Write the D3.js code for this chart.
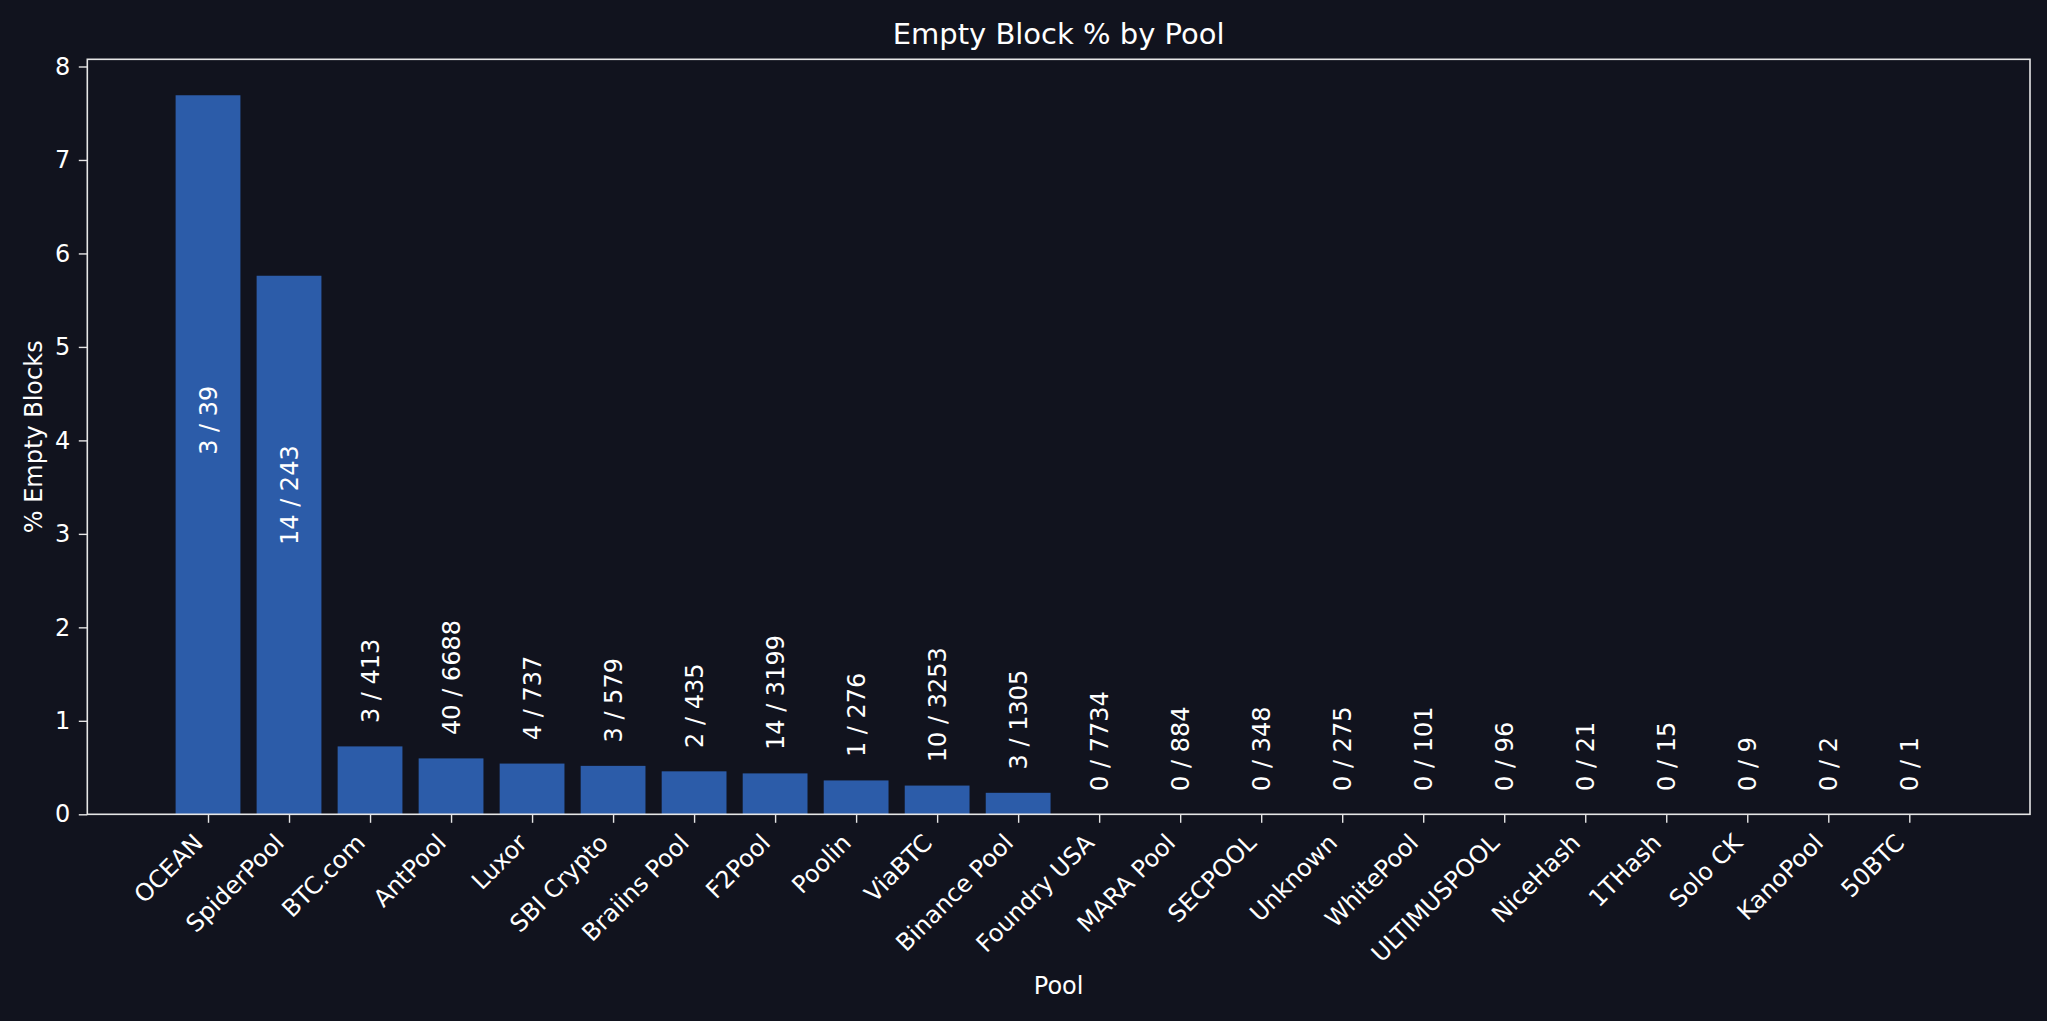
<!DOCTYPE html>
<html>
<head>
<meta charset="utf-8">
<script src="https://cdn.jsdelivr.net/npm/d3@7"></script>
<style>
  html, body { margin: 0; padding: 0; background: #11131e; }
  svg { display: block; }
  text { font-family: "DejaVu Sans", sans-serif; fill: #ffffff; }
</style>
</head>
<body>
<svg id="chart" width="2047" height="1021"></svg>
<script>
// ---- data ----
const pools = ["OCEAN","SpiderPool","BTC.com","AntPool","Luxor","SBI Crypto","Braiins Pool","F2Pool","Poolin","ViaBTC","Binance Pool","Foundry USA","MARA Pool","SECPOOL","Unknown","WhitePool","ULTIMUSPOOL","NiceHash","1THash","Solo CK","KanoPool","50BTC"];
const emptyBlocks = [3,14,3,40,4,3,2,14,1,10,3,0,0,0,0,0,0,0,0,0,0,0];
const totalBlocks = [39,243,413,6688,737,579,435,3199,276,3253,1305,7734,884,348,275,101,96,21,15,9,2,1];
const yTicks = [0,1,2,3,4,5,6,7,8];
const titleText = "Empty Block % by Pool";
const xLabelText = "Pool";
const yLabelText = "% Empty Blocks";

const pct = emptyBlocks.map((e, i) => e / totalBlocks[i] * 100);

(function () {
  // ---- layout ----
  const W = 2047, H = 1021;
  const pL = 87.3, pR = 2030, pT = 59.3, pB = 814.3;
  const barW = 0.8;
  const n = pools.length;
  const xMargin = 0.05 * ((n - 1) + barW);
  const x = d3.scaleLinear()
    .domain([-barW / 2 - xMargin, (n - 1) + barW / 2 + xMargin])
    .range([pL, pR]);
  const yMax = d3.max(pct) * 1.05;
  const y = d3.scaleLinear().domain([0, yMax]).range([pB, pT]);

  const svg = d3.select("#chart");
  svg.append("rect").attr("width", W).attr("height", H).attr("fill", "#11131e");

  const barColor = "#2c5ca9";
  const axisColor = "#e6e6e6";
  const fontSize = 24;

  // bars
  svg.append("g").selectAll("rect").data(pct).join("rect")
    .attr("x", (d, i) => x(i - barW / 2))
    .attr("width", (d, i) => x(i + barW / 2) - x(i - barW / 2))
    .attr("y", d => y(d))
    .attr("height", d => y(0) - y(d))
    .attr("fill", barColor);

  // bar labels
  svg.append("g").selectAll("text").data(pct).join("text")
    .attr("transform", (d, i) => {
      const v = d > 2 ? d / 2 : d + 0.25;
      return `translate(${x(i)},${y(v)}) rotate(-90)`;
    })
    .attr("text-anchor", "start")
    .attr("dy", "0.36em")
    .attr("font-size", fontSize)
    .text((d, i) => `${emptyBlocks[i]} / ${totalBlocks[i]}`);

  // axes
  const xAxis = d3.axisBottom(x)
    .tickValues(d3.range(n))
    .tickFormat(i => pools[i])
    .tickSize(8.5)
    .tickSizeOuter(0);
  const gx = svg.append("g").attr("transform", `translate(0,${pB})`).call(xAxis);
  gx.select(".domain").remove();
  gx.selectAll(".tick line").attr("stroke", axisColor).attr("stroke-width", 1.4);
  gx.selectAll(".tick text")
    .attr("font-size", fontSize)
    .attr("font-family", "DejaVu Sans")
    .attr("fill", "#ffffff")
    .attr("text-anchor", "end")
    .attr("y", 0).attr("dy", null)
    .attr("transform", "translate(-4,30) rotate(-45)");

  const yAxis = d3.axisLeft(y)
    .tickValues(yTicks)
    .tickFormat(d3.format("d"))
    .tickSize(8.5)
    .tickSizeOuter(0);
  const gy = svg.append("g").attr("transform", `translate(${pL},0)`).call(yAxis);
  gy.select(".domain").remove();
  gy.selectAll(".tick line").attr("stroke", axisColor).attr("stroke-width", 1.4);
  gy.selectAll(".tick text")
    .attr("font-size", fontSize)
    .attr("font-family", "DejaVu Sans")
    .attr("fill", "#ffffff")
    .attr("x", -17);

  // frame (spines)
  svg.append("rect")
    .attr("x", pL).attr("y", pT)
    .attr("width", pR - pL).attr("height", pB - pT)
    .attr("fill", "none").attr("stroke", axisColor).attr("stroke-width", 1.6);

  // title & axis labels
  svg.append("text")
    .attr("x", (pL + pR) / 2).attr("y", 44.3)
    .attr("text-anchor", "middle").attr("font-size", 29)
    .text(titleText);

  svg.append("text")
    .attr("x", (pL + pR) / 2).attr("y", 994.3)
    .attr("text-anchor", "middle").attr("font-size", fontSize)
    .text(xLabelText);

  svg.append("text")
    .attr("transform", `translate(41.5,${(pT + pB) / 2}) rotate(-90)`)
    .attr("text-anchor", "middle").attr("font-size", fontSize)
    .text(yLabelText);
})();
</script>
</body>
</html>
